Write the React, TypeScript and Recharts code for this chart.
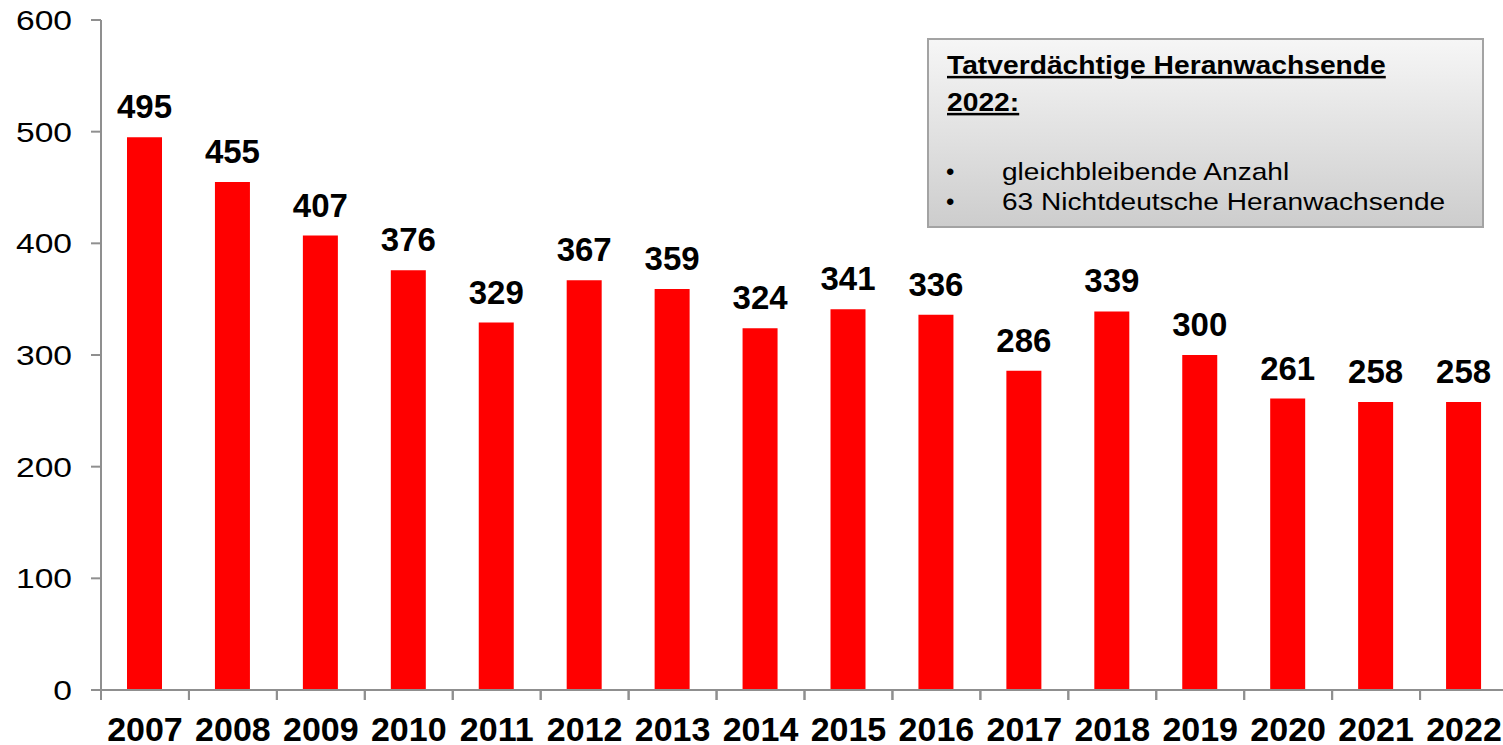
import React from "react";
import { BarChart, Bar, XAxis, YAxis, LabelList } from "recharts";

const years = ["2007", "2008", "2009", "2010", "2011", "2012", "2013", "2014", "2015", "2016", "2017", "2018", "2019", "2020", "2021", "2022"];
const values = [495, 455, 407, 376, 329, 367, 359, 324, 341, 336, 286, 339, 300, 261, 258, 258];
const yTicks = [0, 100, 200, 300, 400, 500, 600];
const boxTitle = ["Tatverdächtige Heranwachsende", "2022:"];
const boxBullets = ["gleichbleibende Anzahl", "63 Nichtdeutsche Heranwachsende"];

const data = years.map((y, i) => ({ year: y, value: values[i] }));

const FONT = "'Liberation Sans', Arial, sans-serif";
const AXIS = "#8f8f8f";
const CHART_W = 1508;
const PLOT_LEFT = 101;
const BAND = (CHART_W - PLOT_LEFT) / years.length;

const YTick = (props: any) => {
  const { x, y, payload } = props;
  return (
    <text
      transform={`translate(${x},${y}) scale(1.2,1)`}
      x={0}
      y={0}
      dy={10}
      textAnchor="end"
      fontFamily={FONT}
      fontSize={28}
      fill="#000"
    >
      {payload.value}
    </text>
  );
};

const XTick = (props: any) => {
  const { x, y, payload } = props;
  const lx = x - BAND / 2;
  return (
    <g>
      <line x1={lx} x2={lx} y1={y - 10} y2={y} stroke={AXIS} strokeWidth={2} />
      <line x1={x + BAND / 2} x2={x + BAND / 2} y1={y - 10} y2={y} stroke={AXIS} strokeWidth={2} />
      <text x={x} y={y} dy={41} textAnchor="middle" fontFamily={FONT} fontSize={34} fontWeight="bold" fill="#000">
        {payload.value}
      </text>
    </g>
  );
};

export default function App() {
  return (
    <div style={{ position: "absolute", left: 0, top: 0, width: 1503, height: 745, overflow: "hidden", background: "#fff" }}>
      <BarChart width={CHART_W} height={745} data={data} margin={{ top: 20, right: 0, bottom: 0, left: 0 }}>
        <XAxis
          dataKey="year"
          height={55}
          interval={0}
          tickSize={10}
          tickMargin={0}
          tickLine={{ stroke: "none" }}
          axisLine={{ stroke: AXIS, strokeWidth: 2 }}
          tick={<XTick />}
        />
        <YAxis
          width={PLOT_LEFT}
          domain={[0, 600]}
          ticks={yTicks}
          interval={0}
          tickSize={10}
          tickMargin={19}
          axisLine={{ stroke: AXIS, strokeWidth: 2 }}
          tickLine={{ stroke: AXIS, strokeWidth: 2 }}
          tick={<YTick />}
        />
        <Bar dataKey="value" fill="#ff0000" barSize={35} isAnimationActive={false}>
          <LabelList
            dataKey="value"
            position="top"
            offset={19}
            fill="#000"
            fontFamily={FONT}
            fontSize={33}
            fontWeight="bold"
          />
        </Bar>
      </BarChart>
      <div
        style={{
          position: "absolute",
          left: 927,
          top: 38,
          width: 557,
          height: 190,
          boxSizing: "border-box",
          border: "2px solid #a3a3a3",
          background: "linear-gradient(#f6f6f6, #cdcdcd)",
        }}
      />
      <svg width={1503} height={745} style={{ position: "absolute", left: 0, top: 0, pointerEvents: "none" }}>
        {boxTitle.map((t, i) => (
          <text
            key={t}
            transform={`translate(947,${74 + i * 37}) scale(1.13,1)`}
            fontFamily={FONT}
            fontSize={25}
            fontWeight="bold"
            textDecoration="underline"
            fill="#000"
          >
            {t}
          </text>
        ))}
        {boxBullets.map((t, i) => (
          <g key={t}>
            <text x={946} y={180 + i * 30} fontFamily={FONT} fontSize={24} fill="#000">
              •
            </text>
            <text transform={`translate(1002,${180 + i * 30}) scale(1.17,1)`} fontFamily={FONT} fontSize={24} fill="#000">
              {t}
            </text>
          </g>
        ))}
      </svg>
    </div>
  );
}
